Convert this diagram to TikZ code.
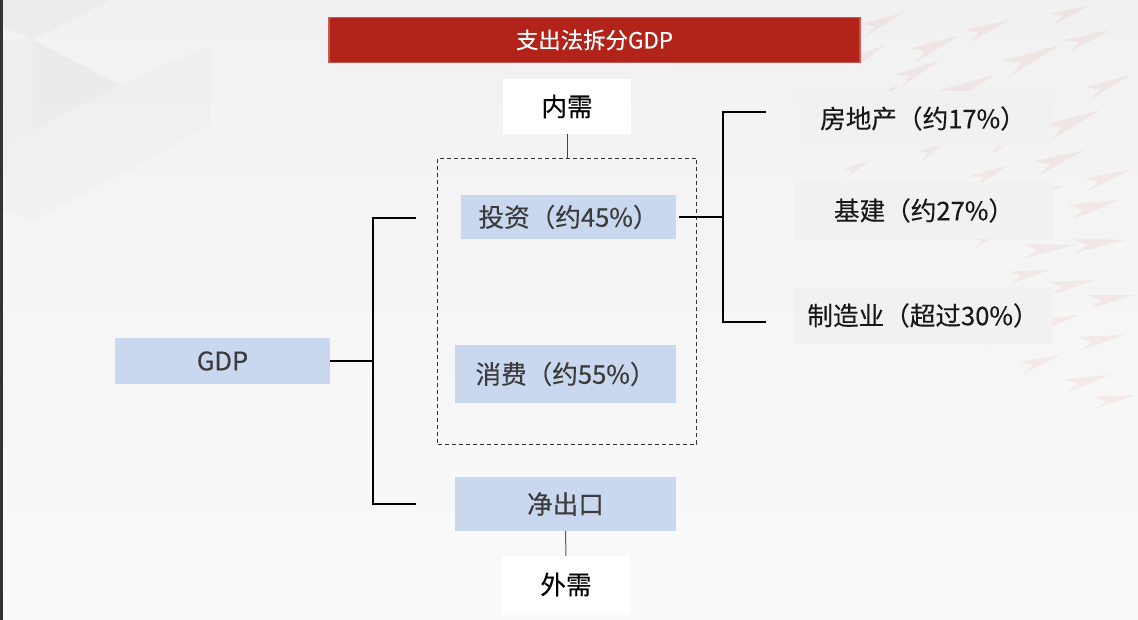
\documentclass[tikz,border=0pt]{standalone}
\usepackage{fontspec}
\newfontfamily\cjk[FakeBold=0.3]{Noto Sans CJK SC}
\definecolor{titlered}{HTML}{B22319}
\definecolor{titleedge}{HTML}{C65A52}
\definecolor{boxblue}{HTML}{C9D8EF}
\definecolor{boxgray}{HTML}{F1F1F1}
\definecolor{txtgray}{HTML}{3C3C3C}
\definecolor{bgtop}{HTML}{F1F1F1}
\definecolor{bgbot}{HTML}{FAFAFA}
\definecolor{tri}{HTML}{E6E6E6}
\definecolor{dartcol}{HTML}{D9534F}
\begin{document}
\begin{tikzpicture}[x=1pt,y=-1pt,
  base/.style={inner sep=0pt, outer sep=0pt, align=center, font=\cjk\fontsize{25.6}{30}\selectfont},
  bluebox/.style={base, fill=boxblue, text=txtgray},
  graybox/.style={base, fill=boxgray, text=black!90},
  whitebox/.style={base, fill=white, text=black},
  titlebox/.style={base, fill=titlered, draw=titleedge, line width=1.5pt, text=white, font=\cjk\fontsize{22.4}{26}\selectfont},
  dashbox/.style={inner sep=0pt, draw=black!80, dashed, dash pattern=on 4pt off 3pt, line width=0.9pt},
  bracket/.style={draw=black, line width=2.4pt},
  thinline/.style={draw=black!75, line width=1pt},
  dart/.style={fill=dartcol, opacity=0.08}
]
% background
\useasboundingbox (0,0) rectangle (1138,620);
\shade[top color=bgtop, bottom color=bgbot] (0,0) rectangle (1138,620);
\fill[tri, opacity=0.45] (3,0) -- (110,0) -- (33,40) -- (3,25) -- cycle;
\fill[tri, opacity=0.5] (33,40) -- (120,85) -- (33,130) -- cycle;
\fill[tri, opacity=0.25] (3,40) -- (33,40) -- (33,130) -- (3,145) -- cycle;
\fill[tri, opacity=0.2] (33,130) -- (120,85) -- (210,45) -- (210,125) -- (120,175) -- (33,220) -- cycle;
\fill[tri, opacity=0.18] (3,145) -- (33,130) -- (33,220) -- (3,210) -- cycle;
\foreach \x/\y/\a/\s in {
  905/12/25/0.8, 960/35/25/0.9, 1010/20/22/0.8, 1060/45/25/1.0, 1110/30/22/0.8,
  940/60/28/0.8, 995/75/25/1.0, 1050/95/28/0.9, 1100/110/25/1.0, 1130/75/25/0.8,
  885/45/30/0.6, 975/110/28/0.7, 1030/130/25/0.8, 1085/150/22/0.9, 1130/170/20/0.8,
  900/85/30/0.6, 950/140/30/0.6, 1010/165/25/0.7, 1065/185/20/0.8, 1120/200/15/0.9,
  1075/245/8/0.9, 1125/240/8/0.9, 1050/270/12/0.7, 1095/280/12/0.8, 1135/295/10/0.8,
  1080/315/15/0.8, 1125/335/12/0.8, 1060/355/20/0.7, 1110/375/15/0.8, 1135/395/12/0.7,
  1045/205/20/0.6, 1005/230/25/0.6, 985/290/25/0.6, 955/320/25/0.6, 1020/330/20/0.6,
  870/160/30/0.5, 930/190/28/0.5, 840/25/30/0.6, 1090/5/22/0.7}{
  \fill[dart, shift={(\x,\y)}, rotate=\a, scale=\s] (0,0) -- (-58,-10) -- (-42,0) -- (-58,7) -- cycle;
}
\fill[black!80] (0,0) rectangle (3,620);
% title
\node[titlebox, minimum width=531, minimum height=45] (title) at (594.5,40) {支出法拆分GDP};
% nodes
\node[whitebox, minimum width=128, minimum height=55] (neixu) at (567,106.5) {内需};
\node[dashbox, minimum width=259, minimum height=286] (dom) at (567,301) {};
\node[bluebox, minimum width=215, minimum height=44] (touzi) at (568.5,217) {投资（约45\%）};
\node[bluebox, minimum width=221, minimum height=58] (xiaofei) at (565.5,374) {消费（约55\%）};
\node[bluebox, minimum width=221, minimum height=54] (jck) at (565.5,504) {净出口};
\node[whitebox, minimum width=128, minimum height=57] (waixu) at (566,584.5) {外需};
\node[bluebox, minimum width=215, minimum height=45] (gdp) at (222.5,361) {GDP};
\node[graybox, minimum width=258, minimum height=55] (fdc) at (923,118.5) {房地产（约17\%）};
\node[graybox, minimum width=260, minimum height=57] (jj) at (924,210.5) {基建（约27\%）};
\node[graybox, minimum width=258, minimum height=57] (zzy) at (923,315.5) {制造业（超过30\%）};
% connectors
\draw[thinline] (neixu.south) -- (dom.north);
\draw[thinline, draw=black!65] (jck.south) -- (waixu.north);
\coordinate (lb) at (373,361);
\coordinate (lt) at (416,218);
\coordinate (lbt) at (416,504);
\draw[bracket] (lt) -| (lb) |- (lbt);
\draw[bracket] (gdp.east) -- (lb);
\coordinate (rb) at (723,217);
\coordinate (rt) at (766,112);
\coordinate (rbo) at (766,322);
\draw[bracket] (rt) -| (rb) |- (rbo);
\draw[bracket, shorten <=3pt] (touzi.east) -- (rb);
\end{tikzpicture}
\end{document}
